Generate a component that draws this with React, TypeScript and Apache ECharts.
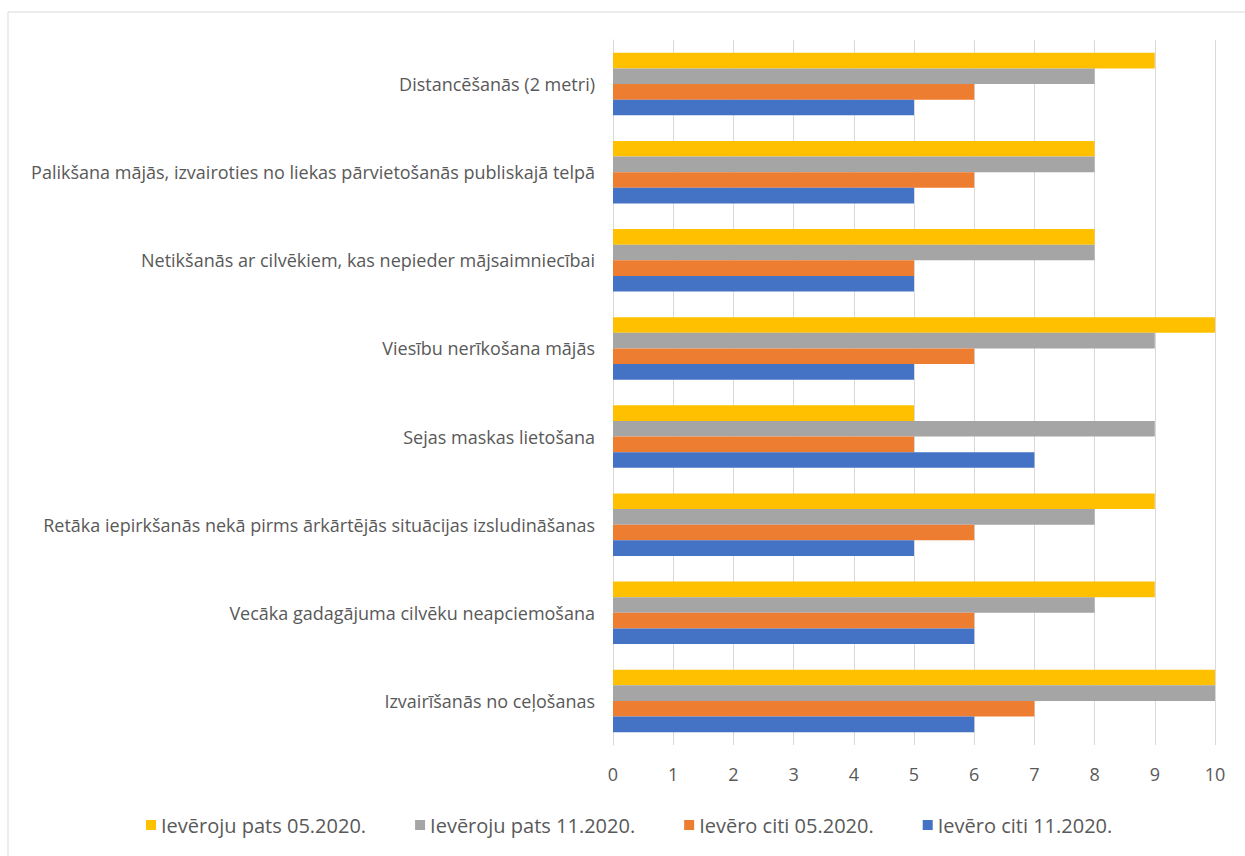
import React, { useEffect, useRef } from "react";
import * as echarts from "echarts";

const categories = [
  "Distancēšanās (2 metri)",
  "Palikšana mājās, izvairoties no liekas pārvietošanās publiskajā telpā",
  "Netikšanās ar cilvēkiem, kas nepieder mājsaimniecībai",
  "Viesību nerīkošana mājās",
  "Sejas maskas lietošana",
  "Retāka iepirkšanās nekā pirms ārkārtējās situācijas izsludināšanas",
  "Vecāka gadagājuma cilvēku neapciemošana",
  "Izvairīšanās no ceļošanas",
];

const seriesNames = [
  "Ievēroju pats 05.2020.",
  "Ievēroju pats 11.2020.",
  "Ievēro citi 05.2020.",
  "Ievēro citi 11.2020.",
];

const selfMay = [9, 8, 8, 10, 5, 9, 9, 10];
const selfNov = [8, 8, 8, 9, 9, 8, 8, 10];
const othersMay = [6, 6, 5, 6, 5, 6, 6, 7];
const othersNov = [5, 5, 5, 5, 7, 5, 6, 6];

const xTicks = [0, 1, 2, 3, 4, 5, 6, 7, 8, 9, 10];

const colors = ["#FFC000", "#A5A5A5", "#ED7D31", "#4472C4"];

const FONT = "Open Sans";

export default function App() {
  const ref = useRef<HTMLDivElement>(null);
  useEffect(() => {
    if (!ref.current) return;
    const chart = echarts.init(ref.current, null, { renderer: "svg" });
    const data = [selfMay, selfNov, othersMay, othersNov];
    chart.setOption({
      animation: false,
      backgroundColor: "#ffffff",
      textStyle: { fontFamily: FONT },
      graphic: [
        {
          type: "rect",
          shape: { x: 8, y: 12, width: 1245, height: 850 },
          style: { fill: "none", stroke: "#d9d9d9", lineWidth: 1 },
          silent: true,
        },
      ],
      legend: {
        data: seriesNames,
        bottom: 16,
        left: 141,
        itemWidth: 10,
        itemHeight: 10,
        itemGap: 49,
        icon: "rect",
        textStyle: { fontFamily: FONT, fontSize: 20, color: "#595959" },
      },
      grid: { left: 613, right: 30, top: 40, bottom: 111, containLabel: false },
      xAxis: {
        type: "value",
        min: xTicks[0],
        max: xTicks[xTicks.length - 1],
        interval: 1,
        axisLine: { show: false },
        axisTick: { show: false },
        axisLabel: { fontFamily: FONT, fontSize: 18, color: "#595959", margin: 20 },
        splitLine: { lineStyle: { color: "#d9d9d9", width: 1 } },
      },
      yAxis: {
        type: "category",
        data: categories,
        inverse: true,
        axisLine: { show: true, lineStyle: { color: "#d9d9d9" } },
        axisTick: { show: false },
        axisLabel: { fontFamily: FONT, fontSize: 18, color: "#595959", margin: 18 },
      },
      series: seriesNames.map((name, i) => ({
        name,
        type: "bar",
        data: data[i],
        barGap: "0%",
        barCategoryGap: "29%",
        itemStyle: { color: colors[i] },
      })),
    });
    return () => chart.dispose();
  }, []);
  return (
    <div
      ref={ref}
      style={{ position: "absolute", left: 0, top: 0, width: 1245, height: 856 }}
    />
  );
}
